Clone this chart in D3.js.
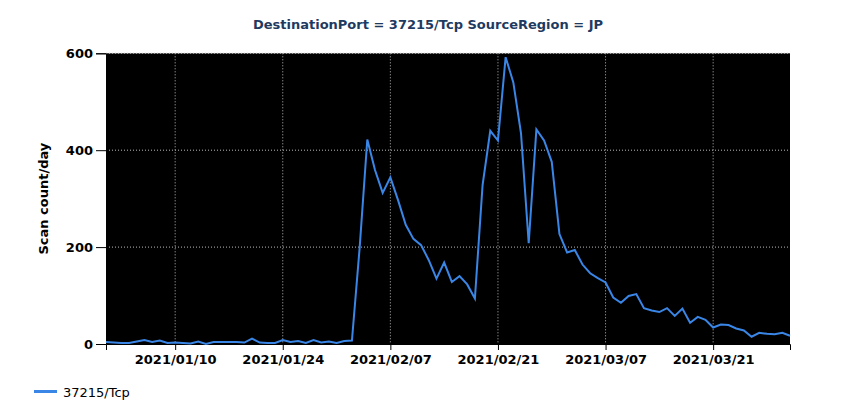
<!DOCTYPE html>
<html>
<head>
<meta charset="utf-8">
<script src="https://cdn.jsdelivr.net/npm/d3@7"></script>
<style>
  body { margin: 0; background: #fff; }
  svg text { font-family: "DejaVu Sans", Verdana, sans-serif; }
</style>
</head>
<body>
<svg id="chart" width="850" height="420"></svg>
<script>
/// Scan count per day chart ///

let titleText = "DestinationPort = 37215/Tcp SourceRegion = JP";
let yLabel = "Scan count/day";
let seriesName = "37215/Tcp";

let startDay = "2021-01-01";
let endDay = "2021-03-31";
let counts = [4, 3, 2, 2, 5, 8, 4, 7, 2, 3, 2, 1, 5, 0, 4, 4, 4,
    4, 3, 11, 3, 2, 2, 8, 4, 6, 2, 8, 3, 5, 2, 6, 7,
    198, 422, 359, 312, 344, 297, 246, 217, 204, 173, 135, 168, 128, 140, 123, 94,
    328, 440, 420, 592, 540, 435, 208, 443, 420, 376, 227, 189, 194, 164, 146, 136,
    127, 96, 85, 99, 103, 74, 69, 66, 74, 58, 73, 44, 56, 50, 34, 40,
    39, 32, 28, 15, 23, 21, 20, 23, 17];
let xTickDays = ["2021-01-10", "2021-01-24", "2021-02-07", "2021-02-21", "2021-03-07", "2021-03-21"];
let yTicks = [0, 200, 400, 600];

let parseDay = d3.timeParse("%Y-%m-%d");
let fmtDay = d3.timeFormat("%Y/%m/%d");

let plotLeft = 106, plotRight = 790, plotTop = 53.3, plotBottom = 344;

let svg = d3.select("#chart");

let x = d3.scaleTime()
    .domain([parseDay(startDay), parseDay(endDay)])
    .range([plotLeft, plotRight]);
let y = d3.scaleLinear()
    .domain([0, 600])
    .range([plotBottom, plotTop]);

let data = counts.map((v, i) => ({date: d3.timeDay.offset(parseDay(startDay), i), value: v}));
let xTicks = xTickDays.map(parseDay);

// black plot background
svg.append("rect")
    .attr("x", plotLeft).attr("y", plotTop)
    .attr("width", plotRight - plotLeft).attr("height", plotBottom - plotTop)
    .attr("fill", "#000");

// gridlines
svg.append("g").selectAll("line.h")
    .data(yTicks.filter(d => d > 0))
    .join("line")
    .attr("x1", plotLeft).attr("x2", plotRight)
    .attr("y1", d => y(d)).attr("y2", d => y(d))
    .attr("stroke", "#bbb").attr("stroke-width", 1)
    .attr("stroke-dasharray", "1,2");

svg.append("g").selectAll("line.v")
    .data(xTicks)
    .join("line")
    .attr("x1", d => x(d)).attr("x2", d => x(d))
    .attr("y1", plotTop).attr("y2", plotBottom)
    .attr("stroke", "#bbb").attr("stroke-width", 1)
    .attr("stroke-dasharray", "1,2");

// axes
let xAxis = d3.axisBottom(x).tickValues(xTicks).tickFormat(fmtDay).tickSize(6).tickPadding(5);
let gx = svg.append("g").attr("transform", `translate(0,${plotBottom})`).call(xAxis);
gx.select(".domain").attr("stroke", "#000");
gx.selectAll("text").attr("font-size", 13).attr("font-weight", "bold").attr("fill", "#000")
    .attr("font-family", "'DejaVu Sans', Verdana, sans-serif");

let yAxis = d3.axisLeft(y).tickValues(yTicks).tickSize(10).tickPadding(3);
let gy = svg.append("g").attr("transform", `translate(${plotLeft},0)`).call(yAxis);
gy.select(".domain").attr("stroke", "#000");
gy.selectAll("text").attr("font-size", 13).attr("font-weight", "bold").attr("fill", "#000")
    .attr("font-family", "'DejaVu Sans', Verdana, sans-serif");

// series line
let line = d3.line().x(d => x(d.date)).y(d => y(d.value));
svg.append("path")
    .datum(data)
    .attr("d", line)
    .attr("fill", "none")
    .attr("stroke", "#3a86e6")
    .attr("stroke-width", 2);

// title
svg.append("text")
    .attr("x", 428).attr("y", 29)
    .attr("text-anchor", "middle")
    .attr("font-size", 13).attr("font-weight", "bold")
    .attr("fill", "#1f3a60")
    .text(titleText);

// y label
svg.append("text")
    .attr("transform", `translate(48,${(plotTop + plotBottom) / 2}) rotate(-90)`)
    .attr("text-anchor", "middle")
    .attr("font-size", 13).attr("font-weight", "bold")
    .attr("fill", "#000")
    .text(yLabel);

// legend
svg.append("line")
    .attr("x1", 34).attr("x2", 57).attr("y1", 391.5).attr("y2", 391.5)
    .attr("stroke", "#3a86e6").attr("stroke-width", 3);
svg.append("text")
    .attr("x", 63).attr("y", 396.5)
    .attr("font-size", 13).attr("fill", "#000")
    .text(seriesName);
</script>
</body>
</html>
